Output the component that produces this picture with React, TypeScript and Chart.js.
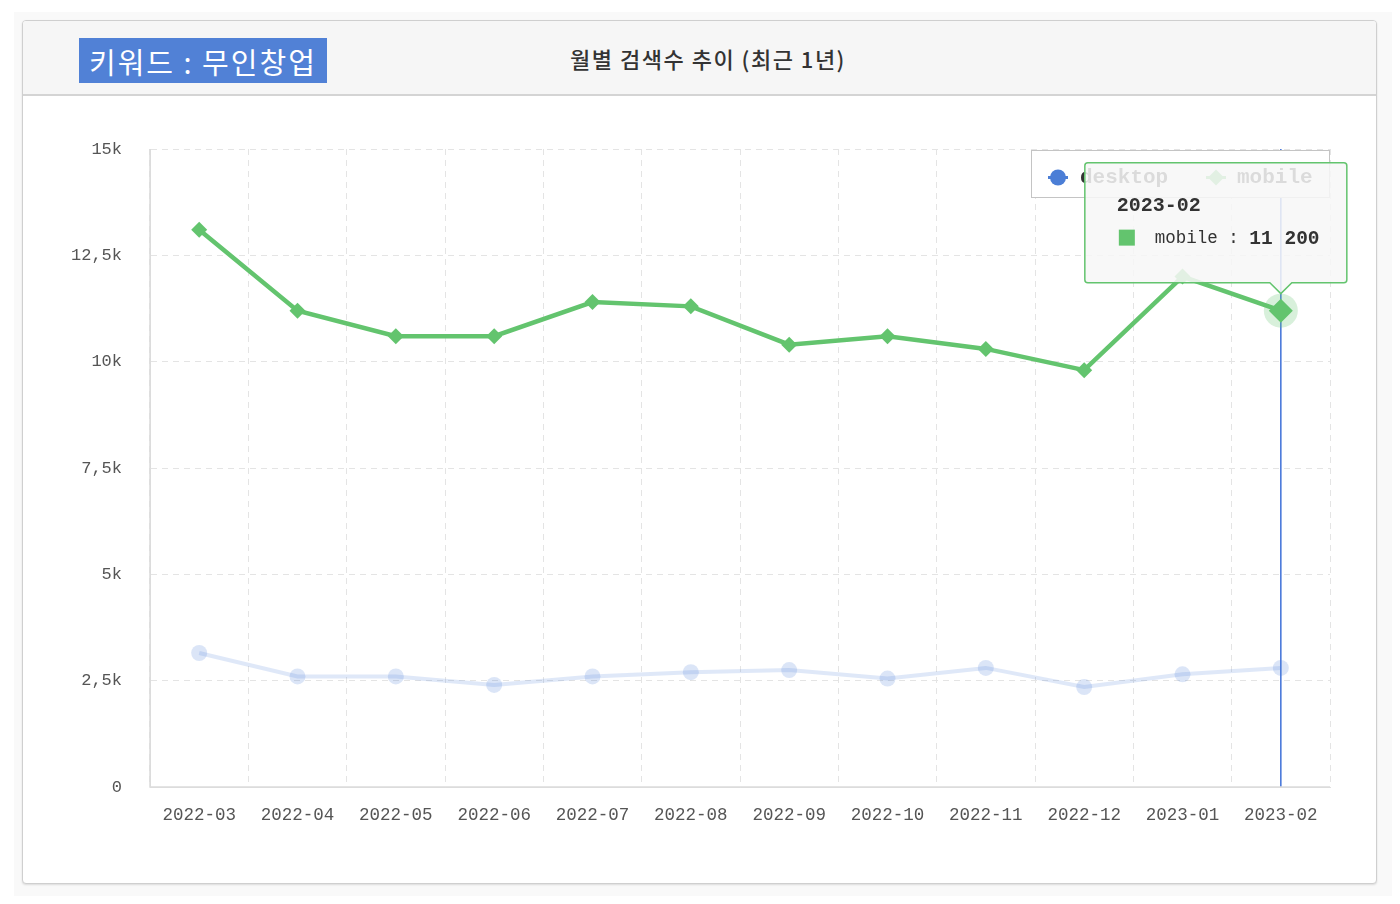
import React, { useEffect, useRef } from "react";
import { Chart, registerables } from "chart.js";

Chart.register(...registerables);

const months = [
  "2022-03", "2022-04", "2022-05", "2022-06", "2022-07", "2022-08",
  "2022-09", "2022-10", "2022-11", "2022-12", "2023-01", "2023-02",
];
const desktopValues = [3150, 2600, 2600, 2400, 2600, 2700, 2750, 2550, 2800, 2350, 2650, 2800];
const mobileValues = [13100, 11200, 10600, 10600, 11400, 11300, 10400, 10600, 10300, 9800, 12000, 11200];
const yTicks = [0, 2500, 5000, 7500, 10000, 12500, 15000];
const yTickLabels = ["0", "2,5k", "5k", "7,5k", "10k", "12,5k", "15k"];
const seriesNames = ["desktop", "mobile"];
const hoverIndex = 11;

const GREEN = "#63c46e";
const BLUE = "#4b7ed6";
const MONO = "'Liberation Mono', 'DejaVu Sans Mono', monospace";
const KR = "'Noto Sans CJK KR', sans-serif";

function fmt(v: number) {
  return String(v).replace(/\B(?=(\d{3})+(?!\d))/g, " ");
}

const overlayPlugin = {
  id: "overlay",
  beforeDatasetsDraw(chart: any) {
    const ctx = chart.ctx;
    const area = chart.chartArea;
    const pt = chart.getDatasetMeta(1).data[hoverIndex];
    ctx.save();
    ctx.strokeStyle = "#3f71d8";
    ctx.lineWidth = 1.5;
    ctx.setLineDash([]);
    ctx.beginPath();
    ctx.moveTo(pt.x, area.top);
    ctx.lineTo(pt.x, area.bottom);
    ctx.stroke();
    ctx.restore();
  },
  afterDatasetsDraw(chart: any) {
    const ctx = chart.ctx;
    const pt = chart.getDatasetMeta(1).data[hoverIndex];
    ctx.save();
    ctx.fillStyle = "rgba(99,196,110,0.25)";
    ctx.beginPath();
    ctx.arc(pt.x, pt.y, 17, 0, Math.PI * 2);
    ctx.fill();
    ctx.fillStyle = GREEN;
    const r = 12;
    ctx.beginPath();
    ctx.moveTo(pt.x, pt.y - r);
    ctx.lineTo(pt.x + r, pt.y);
    ctx.lineTo(pt.x, pt.y + r);
    ctx.lineTo(pt.x - r, pt.y);
    ctx.closePath();
    ctx.fill();
    ctx.restore();
  },
  afterDraw(chart: any) {
    const ctx = chart.ctx;
    const area = chart.chartArea;
    ctx.save();
    // legend box
    const lx = area.right - 299;
    const ly = area.top + 1;
    const lw = 298;
    const lh = 47;
    ctx.fillStyle = "#ffffff";
    ctx.fillRect(lx, ly, lw, lh);
    ctx.strokeStyle = "#c4c4c4";
    ctx.lineWidth = 1;
    ctx.strokeRect(lx + 0.5, ly + 0.5, lw, lh);
    const cy = ly + lh / 2 + 4;
    ctx.strokeStyle = BLUE;
    ctx.lineWidth = 3;
    ctx.beginPath();
    ctx.moveTo(lx + 17, cy);
    ctx.lineTo(lx + 37, cy);
    ctx.stroke();
    ctx.fillStyle = BLUE;
    ctx.beginPath();
    ctx.arc(lx + 27, cy, 8, 0, Math.PI * 2);
    ctx.fill();
    ctx.font = `bold 21px ${MONO}`;
    ctx.fillStyle = "#333333";
    ctx.textBaseline = "middle";
    ctx.textAlign = "left";
    ctx.fillText(seriesNames[0], lx + 49, cy);
    ctx.strokeStyle = GREEN;
    ctx.lineWidth = 3;
    ctx.beginPath();
    ctx.moveTo(lx + 175, cy);
    ctx.lineTo(lx + 195, cy);
    ctx.stroke();
    ctx.fillStyle = GREEN;
    ctx.beginPath();
    ctx.moveTo(lx + 185, cy - 8);
    ctx.lineTo(lx + 193, cy);
    ctx.lineTo(lx + 185, cy + 8);
    ctx.lineTo(lx + 177, cy);
    ctx.closePath();
    ctx.fill();
    ctx.fillStyle = "#333333";
    ctx.fillText(seriesNames[1], lx + 206, cy);

    // tooltip
    const pt = chart.getDatasetMeta(1).data[hoverIndex];
    const tx = pt.x - 196;
    const tw = 262;
    const bottom = pt.y - 28;
    const th = 120;
    const ty = bottom - th;
    const rr = 3;
    ctx.beginPath();
    ctx.moveTo(tx + rr, ty);
    ctx.lineTo(tx + tw - rr, ty);
    ctx.quadraticCurveTo(tx + tw, ty, tx + tw, ty + rr);
    ctx.lineTo(tx + tw, bottom - rr);
    ctx.quadraticCurveTo(tx + tw, bottom, tx + tw - rr, bottom);
    ctx.lineTo(pt.x + 11, bottom);
    ctx.lineTo(pt.x, bottom + 11);
    ctx.lineTo(pt.x - 11, bottom);
    ctx.lineTo(tx + rr, bottom);
    ctx.quadraticCurveTo(tx, bottom, tx, bottom - rr);
    ctx.lineTo(tx, ty + rr);
    ctx.quadraticCurveTo(tx, ty, tx + rr, ty);
    ctx.closePath();
    ctx.fillStyle = "rgba(247,247,247,0.86)";
    ctx.fill();
    ctx.strokeStyle = GREEN;
    ctx.lineWidth = 1.5;
    ctx.stroke();

    ctx.fillStyle = "#333333";
    ctx.font = `bold 20px ${MONO}`;
    ctx.textBaseline = "middle";
    ctx.fillText(months[hoverIndex], tx + 32, ty + 43);
    ctx.fillStyle = GREEN;
    ctx.fillRect(tx + 34, ty + 67, 16, 16);
    ctx.fillStyle = "#333333";
    ctx.font = `17.5px ${MONO}`;
    const label = `${seriesNames[1]} : `;
    ctx.fillText(label, tx + 70, ty + 76);
    const w = ctx.measureText(label).width;
    ctx.font = `bold 19.5px ${MONO}`;
    ctx.fillText(fmt(mobileValues[hoverIndex]), tx + 70 + w, ty + 76);
    ctx.restore();
  },
};

export default function App() {
  const ref = useRef<HTMLCanvasElement>(null);
  useEffect(() => {
    if (!ref.current) return;
    const chart = new Chart(ref.current, {
      type: "line",
      data: {
        labels: months,
        datasets: [
          {
            label: seriesNames[0],
            data: desktopValues,
            borderColor: "rgba(75,126,214,0.18)",
            backgroundColor: "rgba(75,126,214,0.2)",
            borderWidth: 4,
            pointRadius: 8,
            pointBorderWidth: 0,
            pointStyle: "circle",
            tension: 0,
          },
          {
            label: seriesNames[1],
            data: mobileValues,
            borderColor: GREEN,
            backgroundColor: GREEN,
            borderWidth: 4.5,
            pointRadius: 8,
            pointBorderWidth: 0,
            pointStyle: "rectRot",
            tension: 0,
          },
        ],
      },
      options: {
        animation: false,
        responsive: false,
        events: [],
        layout: { padding: { top: 53, right: 46, left: 0, bottom: 0 } },
        plugins: { legend: { display: false }, tooltip: { enabled: false } },
        scales: {
          x: {
            offset: true,
            grid: { offset: true, color: "#e4e4e4", drawTicks: false },
            border: { display: true, color: "#dedede", dash: [6, 5] },
            ticks: {
              padding: 18,
              color: "#555555",
              font: { family: MONO, size: 17.5 },
              maxRotation: 0,
              autoSkip: false,
            },
            afterFit(scale: any) {
              scale.height = 97;
            },
          },
          y: {
            min: 0,
            max: 15000,
            afterBuildTicks(scale: any) {
              scale.ticks = yTicks.map((v) => ({ value: v }));
            },
            grid: { color: "#e4e4e4", drawTicks: false },
            border: { display: true, color: "#dedede", dash: [6, 5] },
            ticks: {
              padding: 28,
              color: "#555555",
              font: { family: MONO, size: 17 },
              callback(value: any) {
                const i = yTicks.indexOf(Number(value));
                return i >= 0 ? yTickLabels[i] : "";
              },
            },
            afterFit(scale: any) {
              scale.width = 127;
            },
          },
        },
      },
      plugins: [
        {
          id: "solidAxes",
          afterDraw(chart: any) {
            const ctx = chart.ctx;
            const a = chart.chartArea;
            ctx.save();
            ctx.strokeStyle = "#dcdcdc";
            ctx.lineWidth = 1.5;
            ctx.beginPath();
            ctx.moveTo(a.left, a.top);
            ctx.lineTo(a.left, a.bottom);
            ctx.lineTo(a.right, a.bottom);
            ctx.stroke();
            ctx.restore();
          },
        },
        overlayPlugin,
      ],
    } as any);
    return () => chart.destroy();
  }, []);

  return (
    <div
      style={{
        position: "absolute",
        left: 14,
        top: 12,
        width: 1378,
        height: 884,
        background: "#f9f9f9",
      }}
    >
      <div
        style={{
          position: "absolute",
          left: 8,
          top: 8,
          width: 1353,
          height: 862,
          background: "#ffffff",
          border: "1px solid #cfcfcf",
          borderRadius: 4,
          boxShadow: "0 1px 2px rgba(0,0,0,0.12)",
          overflow: "hidden",
        }}
      >
        <div
          style={{
            position: "absolute",
            left: 0,
            top: 0,
            width: 1353,
            height: 73,
            background: "#f6f6f6",
            borderBottom: "2px solid #d4d4d4",
          }}
        >
          <div
            style={{
              position: "absolute",
              left: 56,
              top: 17,
              width: 248,
              height: 45,
              background: "#5181d6",
              color: "#ffffff",
              fontFamily: KR,
              fontSize: 29,
              letterSpacing: 2,
              lineHeight: "47px",
              paddingLeft: 10,
              boxSizing: "border-box",
              whiteSpace: "nowrap",
              overflow: "hidden",
            }}
          >
            키워드 : 무인창업
          </div>
          <div
            style={{
              position: "absolute",
              left: 508,
              top: 20,
              width: 354,
              textAlign: "center",
              color: "#333333",
              fontFamily: KR,
              fontWeight: 500,
              fontSize: 22,
              letterSpacing: 1.5,
              lineHeight: "34px",
              whiteSpace: "nowrap",
            }}
          >
            월별 검색수 추이 (최근 1년)
          </div>
        </div>
        <canvas
          ref={ref}
          width={1353}
          height={788}
          style={{ position: "absolute", left: 0, top: 75, width: 1353, height: 788 }}
        />
      </div>
    </div>
  );
}
